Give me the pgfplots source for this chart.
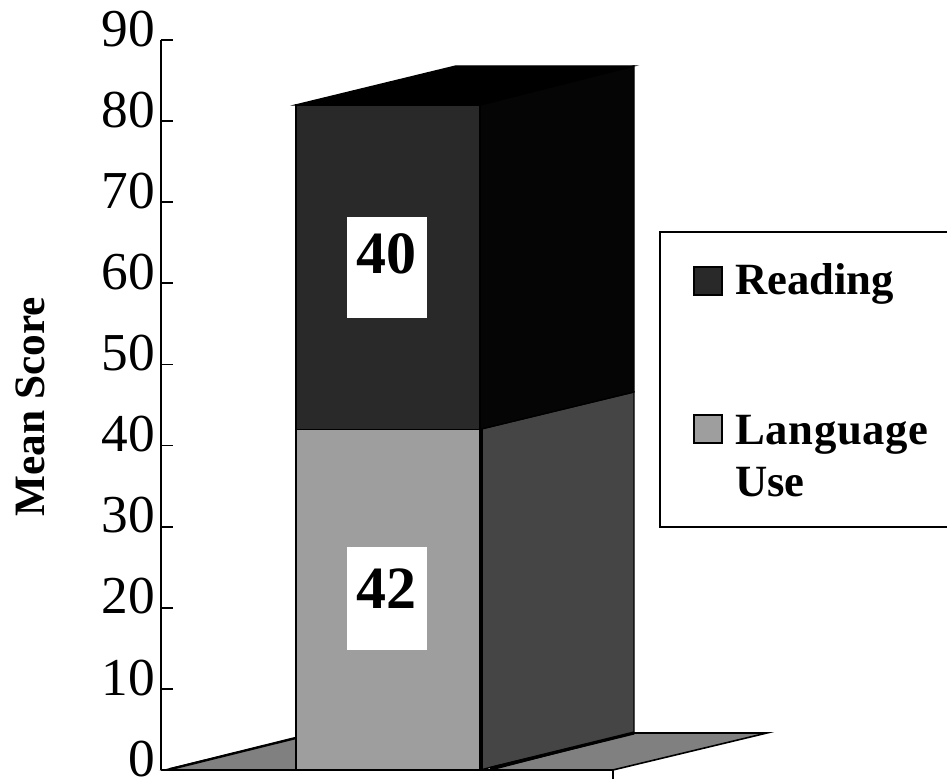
\documentclass[border=0pt]{standalone}
\usepackage{pgfplots}
\usepackage{fontspec}
\setmainfont{Liberation Serif}
\pgfplotsset{compat=1.18}
\definecolor{floorc}{gray}{0.50}
\definecolor{frontlo}{gray}{0.62}
\definecolor{sidelo}{gray}{0.27}
\definecolor{frontup}{gray}{0.16}
\definecolor{sideup}{gray}{0.02}
\begin{document}
\begin{tikzpicture}[x=1pt,y=1pt]
\begin{axis}[
  scale only axis, width=339pt, height=547.5pt,
  xmin=161, xmax=613, ymin=0, ymax=90,
  clip=false,
  axis on top,
  axis x line=bottom, axis y line=left,
  axis line style={-, line width=1.6pt},
  xtick=\empty,
  ytick={0,10,...,90},
  tick align=inside,
  major tick length=9pt,
  tick style={line width=1.3pt, black},
  tick label style={font=\fontsize{40pt}{42pt}\selectfont},
  /pgf/number format/assume math mode=true,
  yticklabel style={xshift=-1pt, yshift=8.5pt},
]
% floor
\addplot[fill=floorc, draw=black, line width=1pt, forget plot] coordinates {(165,0) (296,3.95) (296,0)} --cycle;
\addplot[fill=floorc, draw=black, line width=1.2pt, forget plot] coordinates {(490,0) (634,4.56) (767,4.56) (613,0)} --cycle;
% Language Use: 42
\addplot[fill=sidelo, draw=black, line width=1pt, forget plot] coordinates {(480,0) (634,4.56) (634,46.6) (480,42)} --cycle;
\addplot[fill=frontlo, draw=black, line width=1pt, forget plot] coordinates {(296,0) (480,0) (480,42) (296,42)} --cycle;
% Reading: 40, on top up to 82
\addplot[fill=sideup, draw=black, line width=1pt, forget plot] coordinates {(480,42) (634,46.6) (634,86.8) (480,82)} --cycle;
\addplot[fill=frontup, draw=black, line width=1pt, forget plot] coordinates {(296,42) (480,42) (480,82) (296,82)} --cycle;
\addplot[fill=black, draw=black, line width=1pt, forget plot] coordinates {(296,82) (480,82) (634,86.8) (456,86.8)} --cycle;
% heavy edges
\addplot[black, line width=3pt, forget plot] coordinates {(481,0) (481,42)};
\addplot[black, line width=2.4pt, forget plot] coordinates {(490,0.2) (634,4.56)};
\addplot[black, line width=1.8pt, forget plot] coordinates {(634,4.56) (767,4.56)};
\addplot[black, line width=1.8pt, forget plot] coordinates {(170,0.1) (296,3.95)};
% value labels
\node[fill=white, minimum width=60pt, minimum height=75.75pt, inner sep=0pt] at (axis cs:387,61.95) {};
\node[font=\fontsize{45pt}{48pt}\selectfont\bfseries] at (axis cs:387,63.6) {40};
\node[fill=white, minimum width=60pt, minimum height=77pt, inner sep=0pt] at (axis cs:387,21.15) {};
\node[font=\fontsize{45pt}{48pt}\selectfont\bfseries] at (axis cs:387,22.4) {42};
% x axis end tick
\draw[line width=1.3pt] (axis cs:613,0) -- (axis cs:613,-1.11);
% y label
\node[rotate=90, anchor=base, inner sep=0pt, font=\fontsize{32.5pt}{34pt}\selectfont\bfseries] at (axis cs:45,44.75) {Mean Score};
% legend
\draw[line width=1.4pt, fill=white] (axis cs:960,66.33) -- (axis cs:660,66.33) -- (axis cs:660,29.96) -- (axis cs:960,29.96);
\path[fill=frontup, draw=black, line width=1.2pt] (axis cs:694,58.56) rectangle (axis cs:722,62.0);
\path[fill=frontlo, draw=black, line width=1.5pt] (axis cs:694,40.3) rectangle (axis cs:722,43.77);
\node[anchor=base west, inner sep=0pt, font=\fontsize{33.5pt}{36pt}\selectfont\bfseries] at (axis cs:735,58.56) {Reading};
\node[anchor=base west, inner sep=0pt, font=\fontsize{33.5pt}{36pt}\selectfont\bfseries] at (axis cs:735,40.07) {\addfontfeature{LetterSpace=1.5}Language};
\node[anchor=base west, inner sep=0pt, font=\fontsize{33.5pt}{36pt}\selectfont\bfseries] at (axis cs:735,33.66) {Use};
\coordinate (bl) at (axis cs:0,-1.11);
\coordinate (tr) at (axis cs:947,94.93);
\end{axis}
\pgfresetboundingbox
\path[use as bounding box] (bl) rectangle (tr);
\end{tikzpicture}
\end{document}
